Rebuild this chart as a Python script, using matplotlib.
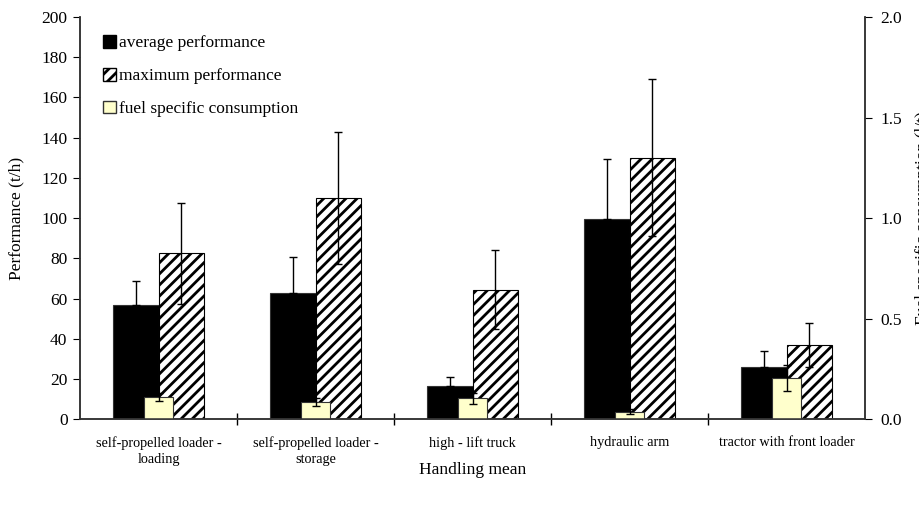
import numpy as np
import matplotlib.pyplot as plt
from matplotlib.patches import Patch

plt.rcParams['font.family'] = ['Liberation Serif', 'DejaVu Serif']
plt.rcParams['hatch.linewidth'] = 2.0

categories = ["self-propelled loader -\nloading", "self-propelled loader -\nstorage",
              "high - lift truck", "hydraulic arm", "tractor with front loader"]
avg_perf = [57, 63, 16.5, 99.5, 26]
avg_err = [12, 17.5, 4.5, 30, 7.8]
max_perf = [82.5, 110, 64.5, 130, 37]
max_err = [25, 33, 19.5, 39, 11]
fuel = [0.11, 0.085, 0.104, 0.038, 0.207]
fuel_err = [0.02, 0.02, 0.028, 0.012, 0.065]

x = np.arange(len(categories))
w = 0.287
wf = 0.19

fig = plt.figure(figsize=(9.19, 5.07), dpi=100)
ax = fig.add_axes([80/919, 1-419.3/507, 785/919, 402.3/507])
ax2 = ax.twinx()

ekw = dict(ecolor='black', elinewidth=1, capsize=3, capthick=1)
ax.bar(x - w/2, avg_perf, w, color='black', edgecolor='#333333', linewidth=0.8,
       yerr=[[0]*5, avg_err], error_kw=ekw)
ax.bar(x + w/2, max_perf, w, color='white', edgecolor='black', linewidth=0.8,
       hatch='///', yerr=max_err, error_kw=ekw)
ax2.bar(x, fuel, wf, color='#FFFFCC', edgecolor='#333333', linewidth=0.8,
        yerr=[fuel_err, fuel_err], error_kw=ekw)

ax.set_xlim(-0.5, len(categories) - 0.5)
ax.set_ylim(0, 200)
ax.set_yticks(np.arange(0, 201, 20))
ax2.set_ylim(0, 2.0)
ax2.set_yticks(np.arange(0, 2.01, 0.5))
ax2.set_yticklabels(['%.1f' % v for v in np.arange(0, 2.01, 0.5)])

ax.set_xticks(x)
ax.set_xticklabels(categories, fontsize=10.3, linespacing=1.3)
ax.tick_params(axis='x', which='major', length=0, pad=12)
ax.set_xticks(np.arange(0.5, len(categories) - 1, 1), minor=True)
ax.tick_params(axis='x', which='minor', direction='inout', length=8, width=1)

for a in (ax, ax2):
    a.spines['top'].set_visible(False)
    for s in ('left', 'right', 'bottom'):
        a.spines[s].set_color('#333333')
        a.spines[s].set_linewidth(1.1)
ax.tick_params(axis='y', labelsize=12.5, length=5, direction='out', pad=4)
ax2.tick_params(axis='y', labelsize=12.5, length=5, direction='out', pad=6)

ax.set_ylabel('Performance (t/h)', fontsize=12.5, labelpad=12)
ax.set_xlabel('Handling mean', fontsize=12.5, labelpad=-3)
fig.text(915/919, 0.57, 'Fuel specific consumption (l/t)', rotation=90,
         ha='left', va='center', fontsize=12.5)

handles = [Patch(facecolor='black', edgecolor='black'),
           Patch(facecolor='white', edgecolor='black', hatch='///'),
           Patch(facecolor='#FFFFCC', edgecolor='#333333')]
labels = ['average performance', 'maximum performance', 'fuel specific consumption']
ax2.legend(handles, labels, loc='upper left', bbox_to_anchor=(96/919, 1-28/507),
           bbox_transform=fig.transFigure, frameon=False, fontsize=12.5,
           handlelength=0.75, handleheight=0.75, handletextpad=0.15, labelspacing=0.95,
           borderaxespad=0)

fig.savefig('out.png', dpi=100)
